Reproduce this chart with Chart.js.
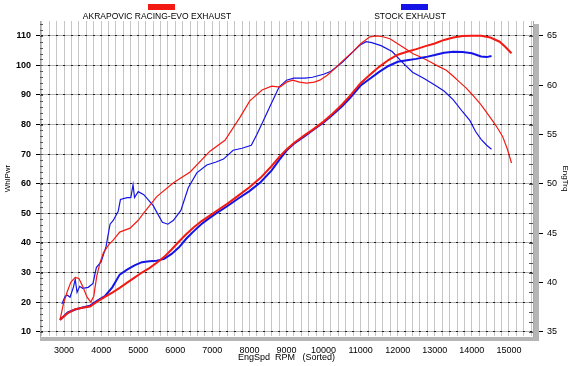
<!DOCTYPE html>
<html>
<head>
<meta charset="utf-8">
<script src="https://cdn.jsdelivr.net/npm/chart.js@4.4.1/dist/chart.umd.min.js"></script>
<style>
  html, body { margin: 0; padding: 0; background: #fff; }
  #wrap { width: 570px; height: 366px; }
</style>
</head>
<body>
<div id="wrap"><canvas id="dyno" width="570" height="366"></canvas></div>
<script>
// Serie Akrapovic - potencia en rueda (eje izquierdo)
const akraPwrRpm = [2890, 3100, 3300, 3500, 3700, 3900, 4100, 4300, 4500, 4700, 4900, 5100, 5300, 5500, 5700, 5900, 6100, 6300, 6500, 6700, 6900, 7100, 7400, 7700, 8000, 8300, 8600, 8800, 9000, 9200, 9500, 9700, 10000, 10200, 10500, 10700, 11000, 11250, 11500, 11750, 12000, 12250, 12500, 12750, 13000, 13250, 13500, 13750, 14000, 14250, 14500, 14750, 14900, 15070];
const akraPwr = [14.0, 16.3, 17.6, 18.1, 18.5, 20.2, 21.8, 23.2, 24.8, 26.6, 28.3, 30.0, 31.5, 33.3, 35.3, 37.8, 40.5, 43.0, 45.3, 47.3, 49.0, 50.7, 53.2, 56.0, 58.8, 62.0, 66.0, 69.0, 71.6, 73.8, 76.5, 78.2, 81.0, 83.2, 86.8, 89.5, 94.0, 96.8, 99.5, 101.8, 103.6, 104.6, 105.5, 106.5, 107.4, 108.6, 109.4, 109.9, 110.0, 110.0, 109.4, 108.0, 106.3, 104.1];

// Serie de serie (stock) - potencia en rueda
const stockPwrRpm = [2890, 3100, 3300, 3500, 3700, 3900, 4100, 4300, 4500, 4700, 4900, 5100, 5300, 5500, 5700, 5900, 6100, 6300, 6500, 6700, 6900, 7100, 7400, 7700, 8000, 8300, 8600, 8800, 9000, 9200, 9500, 9700, 10000, 10200, 10500, 10700, 11000, 11250, 11500, 11750, 12000, 12250, 12500, 12750, 13000, 13250, 13500, 13750, 14000, 14250, 14400, 14530];
const stockPwr = [14.0, 16.5, 17.5, 18.2, 18.8, 20.5, 22.0, 25.0, 29.3, 31.0, 32.4, 33.5, 33.8, 34.0, 34.6, 36.3, 38.5, 41.5, 44.0, 46.3, 48.2, 50.0, 52.4, 55.0, 57.5, 60.5, 64.5, 68.0, 71.2, 73.5, 76.2, 78.0, 80.7, 82.8, 86.2, 88.8, 93.2, 95.5, 97.8, 99.8, 101.2, 101.7, 102.2, 102.8, 103.5, 104.3, 104.6, 104.5, 104.1, 103.0, 102.8, 103.2];

// Par motor Akrapovic (eje derecho)
const akraTrqRpm = [2890, 2980, 3080, 3180, 3300, 3400, 3500, 3620, 3720, 3800, 3880, 3970, 4060, 4200, 4330, 4500, 4780, 5000, 5140, 5500, 5950, 6400, 6935, 7340, 7740, 8010, 8340, 8600, 8820, 9000, 9170, 9350, 9540, 9750, 9900, 10100, 10250, 10500, 10790, 11000, 11250, 11430, 11600, 11790, 12000, 12200, 12400, 12650, 12860, 13100, 13310, 13500, 13670, 13850, 14020, 14250, 14480, 14650, 14830, 14950, 15070];
const akraTrq = [36.2, 37.8, 39.0, 40.0, 40.5, 40.4, 39.6, 38.5, 38.0, 38.6, 40.6, 42.0, 43.0, 43.8, 44.3, 45.1, 45.5, 46.3, 47.0, 48.7, 50.1, 51.2, 53.3, 54.4, 56.7, 58.4, 59.5, 59.9, 59.8, 60.3, 60.5, 60.3, 60.2, 60.3, 60.5, 61.0, 61.5, 62.4, 63.4, 64.2, 64.9, 65.0, 64.9, 64.7, 64.2, 63.7, 63.2, 62.8, 62.4, 61.9, 61.5, 60.9, 60.3, 59.7, 59.0, 58.0, 56.8, 55.9, 54.8, 53.6, 52.1];

// Par motor de serie
const stockTrqRpm = [2940, 3030, 3090, 3160, 3250, 3300, 3350, 3420, 3500, 3650, 3780, 3870, 4000, 4130, 4240, 4330, 4460, 4520, 4700, 4800, 4860, 4900, 5000, 5150, 5400, 5650, 5800, 5950, 6150, 6350, 6580, 6850, 7100, 7300, 7560, 7800, 8050, 8200, 8400, 8600, 8800, 9000, 9200, 9500, 9700, 10000, 10200, 10500, 10800, 11000, 11150, 11300, 11550, 11850, 12100, 12400, 12700, 13000, 13250, 13500, 13750, 13950, 14100, 14250, 14400, 14530];
const stockTrq = [37.8, 38.6, 38.7, 38.5, 39.5, 40.3, 39.0, 39.6, 39.4, 39.5, 39.9, 41.5, 42.1, 43.6, 45.9, 46.3, 47.2, 48.4, 48.6, 48.6, 49.9, 48.6, 49.2, 48.9, 47.8, 46.1, 45.9, 46.3, 47.3, 49.6, 51.1, 51.9, 52.2, 52.5, 53.4, 53.6, 53.9, 55.0, 56.6, 58.2, 59.8, 60.5, 60.7, 60.7, 60.8, 61.1, 61.4, 62.3, 63.4, 64.1, 64.4, 64.3, 64.0, 63.4, 62.4, 61.3, 60.7, 60.0, 59.4, 58.5, 57.3, 56.4, 55.3, 54.5, 53.9, 53.5];

// Etiquetas de los ejes
const rpmLabels = [3000, 4000, 5000, 6000, 7000, 8000, 9000, 10000, 11000, 12000, 13000, 14000, 15000];
const pwrTicks = [10, 20, 30, 40, 50, 60, 70, 80, 90, 100, 110];
const trqTicks = [35, 40, 45, 50, 55, 60, 65];
const seriesNames = ['AKRAPOVIC RACING-EVO EXHAUST', 'STOCK EXHAUST'];

const RED = '#f21a12';
const BLUE = '#1414e6';
const FONT = "'Liberation Sans', Arial, sans-serif";

// lineas verticales de la rejilla cada 200 rpm
const gridRpm = [];
for (let r = 2400; r <= 15600; r += 200) gridRpm.push(r);

function toPoints(xs, ys) {
  return xs.map((x, i) => ({ x: x, y: ys[i] }));
}

// Plugin con los detalles del grafico de banco: puntos, marcas menores, barras grises y leyenda
const dynoDecor = {
  id: 'dynoDecor',
  beforeDatasetsDraw(chart) {
    const { ctx, chartArea, scales } = chart;
    const x = scales.x, yp = scales.yPwr, yt = scales.yTrq;
    ctx.save();
    // puntos negros en los cruces de la rejilla
    ctx.fillStyle = '#1a1a1a';
    pwrTicks.forEach(v => {
      const py = Math.floor(yp.getPixelForValue(v));
      gridRpm.forEach(r => {
        const px = Math.round(x.getPixelForValue(r));
        if (px > chartArea.left && px < chartArea.right) ctx.fillRect(px - 1, py, 2, 1);
      });
    });
    // marcas menores del eje izquierdo
    ctx.strokeStyle = '#555';
    ctx.lineWidth = 1;
    ctx.beginPath();
    for (let v = 10; v <= 114; v += 2) {
      const py = Math.round(yp.getPixelForValue(v)) + 0.5;
      ctx.moveTo(chartArea.left, py);
      ctx.lineTo(chartArea.left + 3, py);
    }
    // marcas menores del eje derecho
    for (let v = 35; v <= 66; v += 1) {
      const py = Math.round(yt.getPixelForValue(v)) + 0.5;
      ctx.moveTo(chartArea.right - 4, py);
      ctx.lineTo(chartArea.right, py);
    }
    ctx.stroke();
    ctx.restore();
  },
  afterDraw(chart) {
    const { ctx, chartArea } = chart;
    ctx.save();
    // barras grises (sombra del marco)
    ctx.fillStyle = '#b5b5b5';
    ctx.fillRect(chartArea.left, chartArea.bottom + 1, chartArea.right - chartArea.left + 6, 4);
    ctx.fillRect(chartArea.right + 1, chartArea.top + 3, 5, chartArea.bottom - chartArea.top + 2);
    // leyenda
    const items = [
      { name: seriesNames[0], color: RED, cx: 157 },
      { name: seriesNames[1], color: BLUE, cx: 410 }
    ];
    ctx.font = '8.5px ' + FONT;
    ctx.textAlign = 'center';
    ctx.textBaseline = 'alphabetic';
    items.forEach(it => {
      ctx.fillStyle = it.color;
      ctx.fillRect(it.cx - 9, 4, 27, 6);
      ctx.fillStyle = '#000';
      ctx.fillText(it.name, it.cx, 19);
    });
    ctx.restore();
  }
};

const ctx = document.getElementById('dyno').getContext('2d');
new Chart(ctx, {
  type: 'line',
  data: {
    datasets: [
      { label: 'Akra WhlPwr', data: toPoints(akraPwrRpm, akraPwr), yAxisID: 'yPwr', borderColor: RED, borderWidth: 2 },
      { label: 'Stock WhlPwr', data: toPoints(stockPwrRpm, stockPwr), yAxisID: 'yPwr', borderColor: BLUE, borderWidth: 2 },
      { label: 'Akra EngTrq', data: toPoints(akraTrqRpm, akraTrq), yAxisID: 'yTrq', borderColor: RED, borderWidth: 1.2 },
      { label: 'Stock EngTrq', data: toPoints(stockTrqRpm, stockTrq), yAxisID: 'yTrq', borderColor: BLUE, borderWidth: 1.2 }
    ]
  },
  options: {
    responsive: false,
    animation: false,
    devicePixelRatio: 1,
    layout: { padding: { top: 21, left: 0, right: 0, bottom: 0 } },
    elements: { point: { radius: 0 }, line: { tension: 0, fill: false } },
    plugins: { legend: { display: false }, tooltip: { enabled: false } },
    scales: {
      x: {
        type: 'linear',
        min: 2350,
        max: 15650,
        afterBuildTicks: axis => { axis.ticks = gridRpm.map(v => ({ value: v })); },
        afterFit: s => { s.height = 30; },
        grid: { color: '#c6c6c6', drawTicks: false },
        border: { display: false },
        ticks: {
          autoSkip: false,
          maxRotation: 0,
          padding: 9,
          color: '#000',
          font: { family: FONT, size: 9 },
          callback: v => rpmLabels.includes(v) ? String(v) : ''
        },
        title: {
          display: true,
          text: 'EngSpd  RPM   (Sorted)',
          color: '#000',
          font: { family: FONT, size: 9 },
          padding: { top: 0, bottom: 3 }
        }
      },
      yPwr: {
        type: 'linear',
        position: 'left',
        min: 8.55,
        max: 115,
        afterBuildTicks: axis => { axis.ticks = pwrTicks.map(v => ({ value: v })); },
        afterFit: s => { s.width = 40; },
        grid: { color: '#b0b0b0', tickColor: '#000', tickLength: 4 },
        border: { display: true, color: '#a8a8a8' },
        ticks: {
          padding: 5,
          color: '#000',
          font: { family: FONT, size: 9, weight: 'bold' },
          callback: v => String(v)
        },
        title: {
          display: true,
          text: 'WhlPwr',
          color: '#000',
          font: { family: FONT, size: 8 },
          padding: { top: 3, bottom: 0 }
        }
      },
      yTrq: {
        type: 'linear',
        position: 'right',
        min: 34.565,
        max: 66.5,
        afterBuildTicks: axis => { axis.ticks = trqTicks.map(v => ({ value: v })); },
        afterFit: s => { s.width = 37; },
        grid: { drawOnChartArea: false, tickColor: '#000', tickLength: 10 },
        border: { display: true, color: '#a8a8a8' },
        ticks: {
          padding: 4,
          color: '#000',
          font: { family: FONT, size: 9 },
          callback: v => String(v)
        },
        title: {
          display: true,
          text: 'EngTrq',
          color: '#000',
          font: { family: FONT, size: 8 },
          padding: { top: 0, bottom: 0 }
        }
      }
    }
  },
  plugins: [dynoDecor]
});
</script>
</body>
</html>
